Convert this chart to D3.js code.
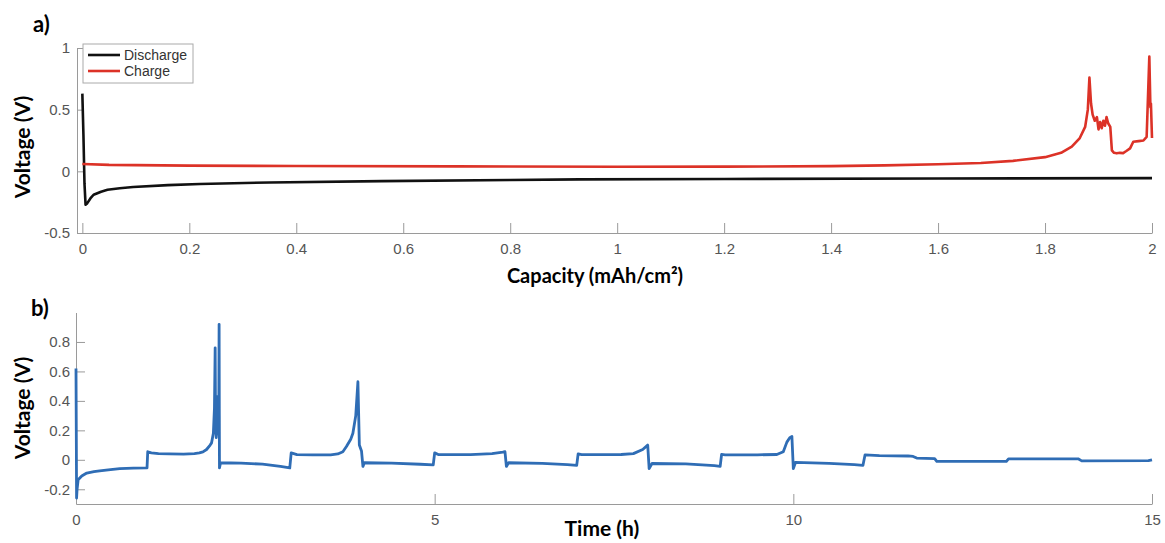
<!DOCTYPE html>
<html>
<head>
<meta charset="utf-8">
<script src="https://cdn.jsdelivr.net/npm/d3@7"></script>
<style>
  body { margin: 0; background: #fff; }
  svg { display: block; }
  .tick text { font-family: "Liberation Sans", Arial, sans-serif; font-size: 15px; fill: #555; }
  .axis path, .axis line { stroke: #9a9a9a; }
  .bold { font-family: Lato, "Open Sans", sans-serif; font-weight: 700; fill: #000; }
  .legend text { font-family: "Liberation Sans", Arial, sans-serif; font-size: 14px; fill: #333; }
</style>
</head>
<body>
<svg id="chart" width="1165" height="543"></svg>
<script>
// ---- panel a : voltage vs capacity ----
const dischargeCap = [0, 0.002, 0.004, 0.006, 0.009, 0.015, 0.021, 0.035, 0.047, 0.07, 0.095, 0.16, 0.22, 0.35, 0.56, 0.8, 0.93, 1.2, 1.6, 2.0]
const dischargeV   = [0.63, 0.3, -0.1, -0.27, -0.26, -0.22, -0.19, -0.165, -0.15, -0.137, -0.127, -0.112, -0.103, -0.09, -0.079, -0.07, -0.065, -0.062, -0.058, -0.055]

const chargeCap = [0, 0.05, 0.1, 0.2, 0.4, 0.7, 1.0, 1.2, 1.4, 1.5, 1.6, 1.68, 1.74, 1.8, 1.83, 1.85, 1.865, 1.875, 1.88, 1.883,
  1.886, 1.889, 1.893, 1.897, 1.9, 1.903, 1.906, 1.909, 1.912, 1.915, 1.918, 1.922, 1.925, 1.929, 1.934, 1.94, 1.946, 1.952,
  1.959, 1.965, 1.975, 1.984, 1.99, 1.995, 1.997, 1.998, 2.0]
const chargeV = [0.06, 0.052, 0.05, 0.046, 0.043, 0.04, 0.037, 0.038, 0.042, 0.048, 0.058, 0.068, 0.085, 0.115, 0.15, 0.2, 0.27, 0.36, 0.5, 0.76,
  0.55, 0.46, 0.41, 0.44, 0.34, 0.40, 0.35, 0.41, 0.37, 0.44, 0.39, 0.36, 0.17, 0.15, 0.146, 0.15, 0.148, 0.165,
  0.186, 0.24, 0.245, 0.25, 0.28, 0.93, 0.52, 0.55, 0.27]

const capTicks = [0, 0.2, 0.4, 0.6, 0.8, 1, 1.2, 1.4, 1.6, 1.8, 2]
const voltTicksA = [-0.5, 0, 0.5, 1]
const legendNames = ["Discharge", "Charge"]

// ---- panel b : voltage vs time ----
const timeH = [0, 0.004, 0.008, 0.015, 0.03, 0.08, 0.15, 0.25, 0.33, 0.45, 0.61, 0.8, 0.99,
  1.0, 1.05, 1.15, 1.3, 1.5, 1.65, 1.72, 1.77, 1.82, 1.87, 1.89, 1.915, 1.93, 1.94, 1.945, 1.955, 1.965, 1.975, 1.982, 1.99, 1.995, 1.998,
  2.0, 2.015, 2.3, 2.6, 2.85, 2.98,
  3.0, 3.08, 3.3, 3.55, 3.65, 3.72, 3.77, 3.83, 3.86, 3.9, 3.93, 3.95, 3.98,
  4.0, 4.02, 4.4, 4.8, 4.98,
  5.0, 5.05, 5.5, 5.8, 5.95, 5.98,
  6.0, 6.03, 6.5, 6.85, 6.98,
  7.0, 7.05, 7.6, 7.77, 7.9, 7.97,
  7.99, 8.03, 8.5, 8.9, 8.98,
  9.0, 9.05, 9.5, 9.77, 9.86, 9.91, 9.95, 9.98,
  10.0, 10.03, 10.5, 10.85, 10.97,
  11.0, 11.2, 11.6, 11.67, 11.72, 11.97,
  12.0, 12.97, 13.0, 13.97, 14.02, 14.95, 15.0]
const cellV = [0.62, 0.2, -0.26, -0.2, -0.135, -0.11, -0.09, -0.08, -0.075, -0.068, -0.06, -0.057, -0.055,
  0.055, 0.047, 0.042, 0.04, 0.039, 0.042, 0.047, 0.054, 0.07, 0.1, 0.115, 0.18, 0.35, 0.76, 0.3, 0.15, 0.2, 0.43, 0.2, 0.25, 0.92, 0.3,
  -0.055, -0.02, -0.022, -0.03, -0.045, -0.055,
  0.047, 0.035, 0.033, 0.034, 0.04, 0.055, 0.09, 0.14, 0.18, 0.3, 0.53, 0.1, 0.06,
  -0.045, -0.02, -0.023, -0.03, -0.034,
  0.047, 0.036, 0.035, 0.042, 0.052, 0.055,
  -0.045, -0.02, -0.024, -0.033, -0.038,
  0.04, 0.035, 0.036, 0.042, 0.07, 0.1,
  -0.06, -0.025, -0.028, -0.04, -0.045,
  0.037, 0.034, 0.034, 0.036, 0.055, 0.12, 0.15, 0.158,
  -0.06, -0.018, -0.024, -0.033, -0.038,
  0.034, 0.028, 0.026, 0.023, 0.012, 0.008,
  -0.011, -0.011, 0.007, 0.007, -0.007, -0.006, 0.0]

const timeTicks = [0, 5, 10, 15]
const voltTicksB = [-0.2, 0, 0.2, 0.4, 0.6, 0.8]

const svg = d3.select("#chart")

function drawAxes(x, y, xTicks, yTicks, xTickLen, yTickLen, xPad, yPad) {
  svg.append("g")
    .attr("class", "axis")
    .attr("transform", `translate(0,${y.range()[0]})`)
    .call(d3.axisBottom(x).tickValues(xTicks).tickFormat(d => String(d))
      .tickSizeInner(-xTickLen).tickSizeOuter(0).tickPadding(xPad))
  svg.append("g")
    .attr("class", "axis")
    .attr("transform", `translate(${x.range()[0]},0)`)
    .call(d3.axisLeft(y).tickValues(yTicks).tickFormat(d => String(d))
      .tickSizeInner(-yTickLen).tickSizeOuter(0).tickPadding(yPad))
}

// panel a
const xA = d3.scaleLinear().domain([-0.01, 2]).range([77, 1152])
const yA = d3.scaleLinear().domain([-0.5, 1]).range([233, 48])
drawAxes(xA, yA, capTicks, voltTicksA, 10, 6, 10, 7)

const lineA = d3.line().x(d => xA(d[0])).y(d => yA(d[1]))
svg.append("path")
  .datum(d3.zip(dischargeCap, dischargeV))
  .attr("d", lineA)
  .attr("fill", "none")
  .attr("stroke", "#111")
  .attr("stroke-width", 2.6)
  .attr("stroke-linejoin", "round")
svg.append("path")
  .datum(d3.zip(chargeCap, chargeV))
  .attr("d", lineA)
  .attr("fill", "none")
  .attr("stroke", "#dc3227")
  .attr("stroke-width", 2.6)
  .attr("stroke-linejoin", "round")

// legend
const legend = svg.append("g").attr("class", "legend")
legend.append("rect")
  .attr("x", 83).attr("y", 44).attr("width", 110).attr("height", 39)
  .attr("fill", "#fff").attr("stroke", "#aaa")
const legendColors = ["#111", "#dc3227"]
legendNames.forEach((name, i) => {
  legend.append("line")
    .attr("x1", 88).attr("x2", 120)
    .attr("y1", 55 + i * 16).attr("y2", 55 + i * 16)
    .attr("stroke", legendColors[i]).attr("stroke-width", 2.6)
  legend.append("text")
    .attr("x", 124).attr("y", 60 + i * 16)
    .text(name)
})

// panel b
const xB = d3.scaleLinear().domain([0, 15]).range([76, 1152])
const yB = d3.scaleLinear().domain([-0.3, 1]).range([504, 312.5])
drawAxes(xB, yB, timeTicks, voltTicksB, 10, 9, 10, 6)

const lineB = d3.line().x(d => xB(d[0])).y(d => yB(d[1]))
svg.append("path")
  .datum(d3.zip(timeH, cellV))
  .attr("d", lineB)
  .attr("fill", "none")
  .attr("stroke", "#2f6db5")
  .attr("stroke-width", 2.8)
  .attr("stroke-linejoin", "round")

// titles and labels
svg.append("text").attr("class", "bold").attr("x", 33).attr("y", 32)
  .style("font-size", "22px").text("a)")
svg.append("text").attr("class", "bold").attr("x", 31).attr("y", 316)
  .style("font-size", "22px").text("b)")

svg.append("text").attr("class", "bold")
  .attr("transform", "translate(30,147) rotate(-90)")
  .attr("text-anchor", "middle")
  .style("font-size", "21px").text("Voltage (V)")
svg.append("text").attr("class", "bold")
  .attr("transform", "translate(30,408) rotate(-90)")
  .attr("text-anchor", "middle")
  .style("font-size", "21px").text("Voltage (V)")

svg.append("text").attr("class", "bold")
  .attr("x", 595).attr("y", 283)
  .attr("text-anchor", "middle")
  .style("font-size", "20px").text("Capacity (mAh/cm²)")
svg.append("text").attr("class", "bold")
  .attr("x", 602).attr("y", 536)
  .attr("text-anchor", "middle")
  .style("font-size", "21px").text("Time (h)")
</script>
</body>
</html>
